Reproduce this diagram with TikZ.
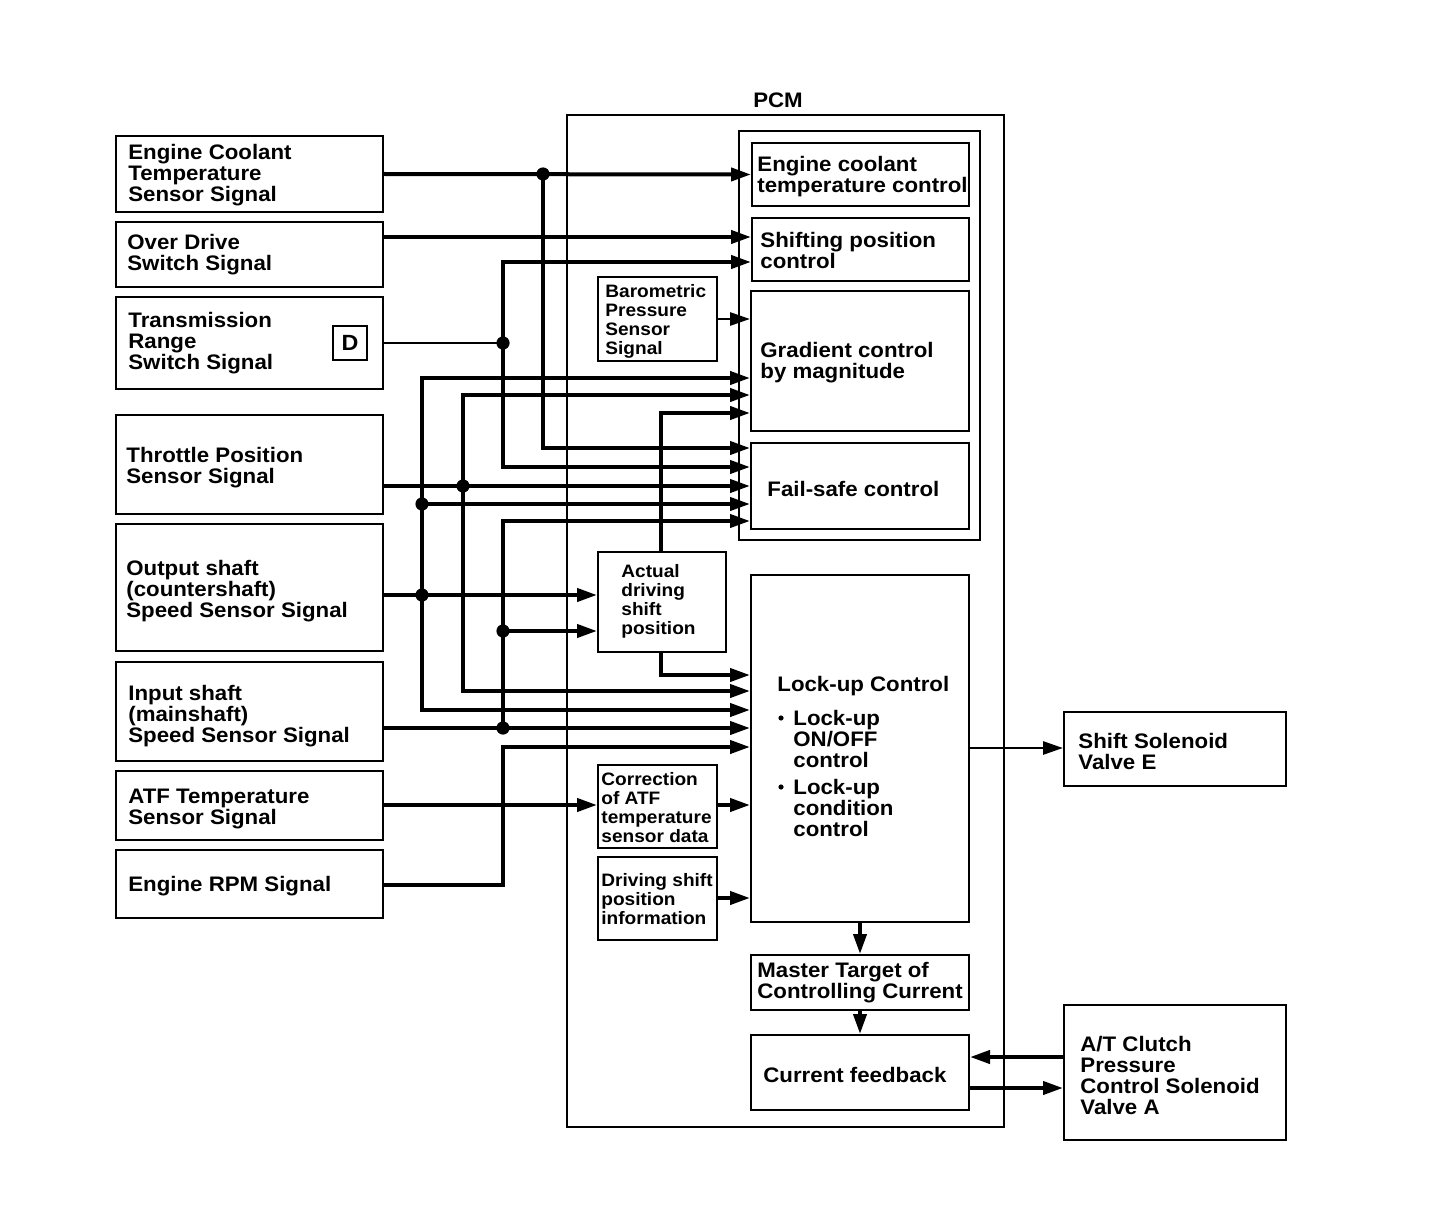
\documentclass[tikz,border=0pt]{standalone}
\usepackage{fontspec}
\setmainfont{Liberation Sans}[FakeStretch=1.06]
\usetikzlibrary{arrows.meta,fit}
\begin{document}
\begin{tikzpicture}[x=0.5pt,y=-0.5pt,
  box/.style={draw, line width=1pt, inner sep=0pt},
  tx/.style={font=\bfseries\fontsize{10.5}{10.5}\selectfont, align=left, inner sep=0pt, anchor=west},
  txs/.style={font=\bfseries\fontsize{9}{9.5}\selectfont, align=left, inner sep=0pt, anchor=west},
  wire/.style={line width=2pt},
  arr/.style={line width=2pt, -{Triangle[length=10pt,width=6.5pt]}},
  arrm/.style={line width=1.4pt, -{Triangle[length=10pt,width=6.5pt]}},
  dot/.style={circle, fill, inner sep=0pt, minimum size=6.6pt},
  bul/.style={circle, fill, inner sep=0pt, minimum size=2.6pt}]
\useasboundingbox (0,0) rectangle (1456,1214);

% ---------- left input boxes ----------
\node[box, fit={(116,136)(383,212)}] (ecS) {};
\node[tx] (ecSt) at (128,175) {Engine Coolant\\Temperature\\Sensor Signal};
\node[box, fit={(116,222)(383,287)}] (odS) {};
\node[tx] (odSt) at (127,255) {Over Drive\\Switch Signal};
\node[box, fit={(116,297)(383,389)}] (trS) {};
\node[tx] (trSt) at (128,343) {Transmission\\Range\\Switch Signal};
\node[draw, line width=1pt, minimum size=17pt, inner sep=0pt, font=\bfseries\fontsize{11}{11}\selectfont] (dsym) at (350,343) {D};
\node[box, fit={(116,415)(383,514)}] (tpS) {};
\node[tx] (tpSt) at (126,468) {Throttle Position\\Sensor Signal};
\node[box, fit={(116,524)(383,651)}] (osS) {};
\node[tx] (osSt) at (126,591) {Output shaft\\(countershaft)\\Speed Sensor Signal};
\node[box, fit={(116,662)(383,761)}] (isS) {};
\node[tx] (isSt) at (128,716) {Input shaft\\(mainshaft)\\Speed Sensor Signal};
\node[box, fit={(116,771)(383,840)}] (atS) {};
\node[tx] (atSt) at (128,809) {ATF Temperature\\Sensor Signal};
\node[box, fit={(116,850)(383,918)}] (rpS) {};
\node[tx] (rpSt) at (128,886) {Engine RPM Signal};

% ---------- PCM ----------
\node[box, fit={(567,115)(1004,1127)}] (pcm) {};
\node[tx, anchor=center] (pcmt) at (778,100) {PCM};
\node[box, fit={(739,131)(980,540)}] (grp) {};
\node[box, fit={(752,143)(969,206)}] (ecC) {};
\node[tx] (ecCt) at (757,177) {Engine coolant\\temperature control};
\node[box, fit={(752,218)(969,281)}] (spC) {};
\node[tx] (spCt) at (760,250) {Shifting position\\control};
\node[box, fit={(751,291)(969,431)}] (grC) {};
\node[tx] (grCt) at (760,363) {Gradient control\\by magnitude};
\node[box, fit={(751,443)(969,529)}] (fsC) {};
\node[tx] (fsCt) at (767,489) {Fail-safe control};

\node[box, fit={(598,277)(717,361)}] (baro) {};
\node[txs] (barot) at (605,321) {Barometric\\Pressure\\Sensor\\Signal};
\node[box, fit={(598,552)(726,652)}] (adsp) {};
\node[txs] (adspt) at (621,601) {Actual\\driving\\shift\\position};
\node[box, fit={(598,765)(717,848)}] (corr) {};
\node[txs] (corrt) at (601,808) {Correction\\of ATF\\temperature\\sensor data};
\node[box, fit={(598,857)(717,940)}] (dspi) {};
\node[txs] (dspit) at (601,899) {Driving shift\\position\\information};

\node[box, fit={(751,575)(969,922)}] (luC) {};
\node[tx] (luCt) at (777,686) {Lock-up Control};
\node[bul] (lub1) at (781,718) {};
\node[tx] (lut1) at (793,739) {Lock-up\\ON/OFF\\control};
\node[bul] (lub2) at (781,787) {};
\node[tx] (lut2) at (793,808) {Lock-up\\condition\\control};

\node[box, fit={(751,955)(969,1010)}] (mtC) {};
\node[tx] (mtCt) at (757,983) {Master Target of\\Controlling Current};
\node[box, fit={(751,1035)(969,1110)}] (cfC) {};
\node[tx] (cfCt) at (763,1075) {Current feedback};

% ---------- outputs ----------
\node[box, fit={(1064,712)(1286,786)}] (sse) {};
\node[tx] (sset) at (1078,751) {Shift Solenoid\\Valve E};
\node[box, fit={(1064,1005)(1286,1140)}] (atc) {};
\node[tx] (atct) at (1080,1075) {A/T Clutch\\Pressure\\Control Solenoid\\Valve A};

% ---------- junctions ----------
\coordinate (jEC) at (543,174);
\coordinate (jTR) at (503,343);
\coordinate (jTP) at (463,486);
\coordinate (jOSa) at (422,504);
\coordinate (jOS) at (422,595);
\coordinate (jISa) at (503,631);
\coordinate (jIS) at (503,728);
\coordinate (jRP) at (503,885);

% ---------- connectors ----------
% Engine coolant
\draw[arr] (ecS.east) -- (ecC.west);
\draw[arr] (jEC) |- (fsC.west |- 0,448);
% Over drive
\draw[arr] (odS.east |- 0,237) -- (spC.west |- 0,237);
% Transmission range
\draw[line width=1.2pt] (trS.east |- jTR) -- (jTR);
\draw[arr] (jTR) |- (spC.west |- 0,262);
\draw[arr] (jTR) |- (fsC.west |- 0,467);
% Throttle position
\draw[arr] (tpS.east |- jTP) -- (fsC.west |- jTP);
\draw[arr] (jTP) |- (grC.west |- 0,395);
\draw[arr] (jTP) |- (luC.west |- 0,691);
% Output shaft
\draw[arr] (osS.east |- jOS) -- (adsp.west |- jOS);
\draw[arr] (jOS) |- (grC.west |- 0,378);
\draw[arr] (jOSa) -- (fsC.west |- jOSa);
\draw[arr] (jOS) |- (luC.west |- 0,710);
% Input shaft
\draw[arr] (isS.east |- jIS) -- (luC.west |- jIS);
\draw[arr] (jIS) |- (fsC.west |- 0,521);
\draw[arr] (jISa) -- (adsp.west |- jISa);
% Engine RPM
\draw[arr] (rpS.east |- jRP) -- (jRP) |- (luC.west |- 0,747);
% ATF temperature
\draw[arr] (atS.east |- 0,805) -- (corr.west |- 0,805);
\draw[arr] (corr.east |- 0,805) -- (luC.west |- 0,805);
\draw[arr] (dspi.east |- 0,898) -- (luC.west |- 0,898);
% Barometric
\draw[arrm] (baro.east |- 0,319) -- (grC.west |- 0,319);
% Actual driving shift position
\draw[arr] (adsp.north -| 661,0) |- (grC.west |- 0,413);
\draw[arr] (adsp.south -| 661,0) |- (luC.west |- 0,675);
% outputs
\draw[arrm] (luC.east |- 0,748) -- (sse.west |- 0,748);
\draw[arr] (luC.south -| 860,0) -- (mtC.north -| 860,0);
\draw[arr] (mtC.south -| 860,0) -- (cfC.north -| 860,0);
\draw[arr] (atc.west |- 0,1057) -- (cfC.east |- 0,1057);
\draw[arr] (cfC.east |- 0,1088) -- (atc.west |- 0,1088);

% dots
\foreach \j in {jEC,jTR,jTP,jOSa,jOS,jISa,jIS} \node[dot] at (\j) {};
\end{tikzpicture}
\end{document}
